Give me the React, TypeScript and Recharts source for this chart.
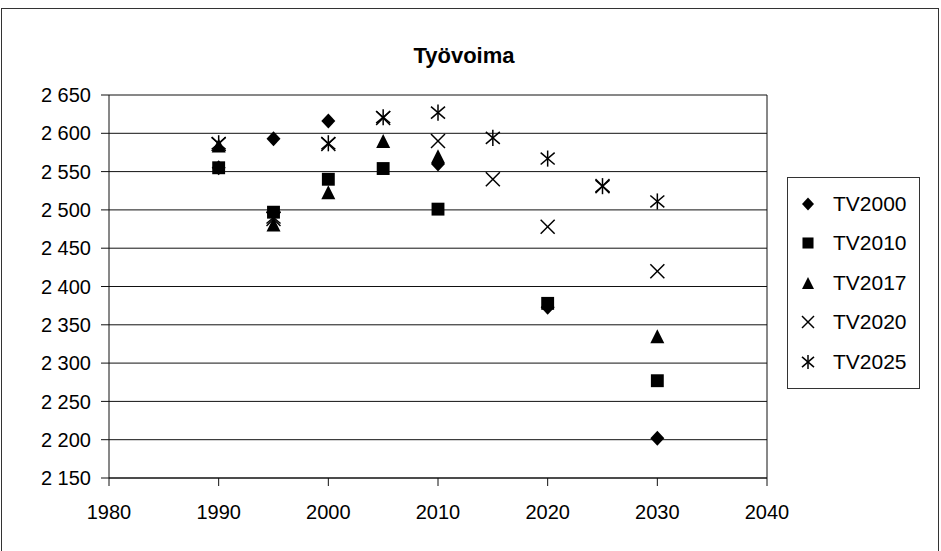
import React from "react";
import { ScatterChart, Scatter, XAxis, YAxis, CartesianGrid, ReferenceLine } from "recharts";

const xTicks = [1980, 1990, 2000, 2010, 2020, 2030, 2040];
const yTicks = [2150, 2200, 2250, 2300, 2350, 2400, 2450, 2500, 2550, 2600, 2650];

const yearsTV2000 = [1990, 1995, 2000, 2010, 2020, 2030];
const valuesTV2000 = [2555, 2593, 2616, 2560, 2373, 2202];

const yearsTV2010 = [1990, 1995, 2000, 2005, 2010, 2020, 2030];
const valuesTV2010 = [2555, 2497, 2540, 2554, 2501, 2378, 2277];

const yearsTV2017 = [1990, 1995, 2000, 2005, 2010, 2030];
const valuesTV2017 = [2584, 2481, 2523, 2590, 2570, 2335];

const yearsTV2020 = [1990, 1995, 2000, 2005, 2010, 2015, 2020, 2025, 2030];
const valuesTV2020 = [2586, 2488, 2586, 2620, 2590, 2540, 2478, 2531, 2420];

const yearsTV2025 = [1990, 1995, 2000, 2005, 2010, 2015, 2020, 2025, 2030];
const valuesTV2025 = [2587, 2490, 2587, 2621, 2627, 2594, 2567, 2531, 2511];

const toPoints = (xs: number[], ys: number[]) => xs.map((x, i) => ({ x, y: ys[i] }));

const FONT = '"Liberation Sans", Arial, sans-serif';

type Kind = "diamond" | "square" | "triangle" | "x" | "asterisk";

const drawMarker = (kind: Kind, cx: number, cy: number, s: number) => {
  switch (kind) {
    case "diamond":
      return <polygon points={`${cx},${cy - s * 1.07} ${cx + s},${cy} ${cx},${cy + s * 1.07} ${cx - s},${cy}`} fill="#000" />;
    case "square":
      return <rect x={cx - s * 0.92} y={cy - s * 0.92} width={1.84 * s} height={1.84 * s} fill="#000" />;
    case "triangle":
      return <polygon points={`${cx},${cy - s} ${cx + s},${cy + s} ${cx - s},${cy + s}`} fill="#000" />;
    case "x":
      return (
        <g stroke="#000" strokeWidth={1.5}>
          <line x1={cx - s} y1={cy - s} x2={cx + s} y2={cy + s} />
          <line x1={cx - s} y1={cy + s} x2={cx + s} y2={cy - s} />
        </g>
      );
    case "asterisk":
    default:
      return (
        <g stroke="#000" strokeWidth={1.5}>
          <line x1={cx - s} y1={cy - s * 0.85} x2={cx + s} y2={cy + s * 0.85} />
          <line x1={cx - s} y1={cy + s * 0.85} x2={cx + s} y2={cy - s * 0.85} />
          <line x1={cx} y1={cy - s * 1.15} x2={cx} y2={cy + s * 1.15} />
        </g>
      );
  }
};

const makeShape = (kind: Kind) => (props: any) => {
  const { cx, cy } = props;
  if (cx == null || cy == null) return <g />;
  return drawMarker(kind, cx, cy, 7);
};

const series: { name: string; kind: Kind; data: { x: number; y: number }[] }[] = [
  { name: "TV2000", kind: "diamond", data: toPoints(yearsTV2000, valuesTV2000) },
  { name: "TV2010", kind: "square", data: toPoints(yearsTV2010, valuesTV2010) },
  { name: "TV2017", kind: "triangle", data: toPoints(yearsTV2017, valuesTV2017) },
  { name: "TV2020", kind: "x", data: toPoints(yearsTV2020, valuesTV2020) },
  { name: "TV2025", kind: "asterisk", data: toPoints(yearsTV2025, valuesTV2025) },
];

const fmt = (v: number) => {
  const s = String(Math.round(v));
  return s.replace(/\B(?=(\d{3})+(?!\d))/g, " ");
};

const tickStyle = { fill: "#000", fontFamily: FONT, fontSize: 20 };

export default function App() {
  return (
    <div style={{ position: "absolute", left: 0, top: 0, width: 941, height: 551, background: "#fff", overflow: "hidden" }}>
      <div
        style={{
          position: "absolute",
          left: 1,
          top: 8,
          width: 938,
          height: 600,
          border: "1px solid #333",
          boxSizing: "border-box",
        }}
      />
      <div
        style={{
          position: "absolute",
          left: 464,
          top: 45,
          transform: "translateX(-50%)",
          fontFamily: FONT,
          fontWeight: "bold",
          fontSize: 22,
          lineHeight: "22px",
          whiteSpace: "nowrap",
          color: "#000",
        }}
      >
        Työvoima
      </div>
      <div style={{ position: "absolute", left: 0, top: 0 }}>
        <ScatterChart width={941} height={551} margin={{ top: 95, right: 174, bottom: 43, left: 9 }}>
          <CartesianGrid horizontal vertical={false} stroke="#111" strokeWidth={1} />
          <XAxis
            type="number"
            dataKey="x"
            domain={[1980, 2040]}
            ticks={xTicks}
            interval={0}
            allowDataOverflow
            height={30}
            tickSize={8}
            tickMargin={19}
            stroke="#111"
            tick={tickStyle}
          />
          <YAxis
            type="number"
            dataKey="y"
            domain={[2150, 2650]}
            ticks={yTicks}
            interval={0}
            allowDataOverflow
            width={100}
            tickSize={8}
            tickMargin={10}
            tickFormatter={fmt}
            stroke="#111"
            tick={tickStyle}
          />
          <ReferenceLine x={2040} stroke="#111" ifOverflow="visible" />
          {series.map((s) => (
            <Scatter
              key={s.name}
              name={s.name}
              data={s.data}
              shape={makeShape(s.kind)}
              isAnimationActive={false}
            />
          ))}
        </ScatterChart>
      </div>
      <div
        style={{
          position: "absolute",
          left: 787,
          top: 177,
          width: 133,
          height: 212,
          border: "1px solid #333",
          boxSizing: "border-box",
          background: "#fff",
          paddingTop: 6,
        }}
      >
        {series.map((s) => (
          <div
            key={s.name}
            style={{ display: "flex", alignItems: "center", height: 39.5, fontFamily: FONT, fontSize: 21, color: "#000", whiteSpace: "nowrap" }}
          >
            <svg width={45} height={20} style={{ flex: "none" }}>
              {drawMarker(s.kind, 20, 10, 6)}
            </svg>
            <span>{s.name}</span>
          </div>
        ))}
      </div>
    </div>
  );
}
